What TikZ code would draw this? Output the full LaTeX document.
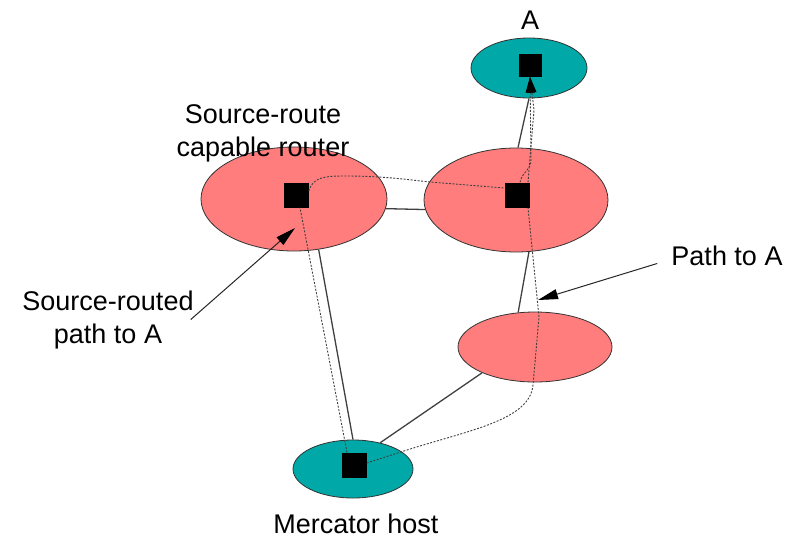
\documentclass[tikz,border=0pt]{standalone}
\usepackage{fontspec}
\setmainfont{Liberation Sans}
\usetikzlibrary{shapes.geometric,arrows.meta}
\definecolor{routerpink}{RGB}{255,125,125}
\definecolor{hostteal}{RGB}{0,168,168}
\begin{document}
\begin{tikzpicture}[x=1pt,y=-1pt,
  cloud/.style={ellipse,draw=black!80,line width=0.8pt,inner sep=0pt},
  router/.style={cloud,fill=routerpink},
  host/.style={cloud,fill=hostteal},
  port/.style={rectangle,fill=black,inner sep=0pt,minimum size=#1},
  port/.default=25pt,
  link/.style={draw=black!75,line width=1.3pt},
  route/.style={draw=black!75,line width=0.9pt,dash pattern=on 2pt off 1.5pt},
  intoA/.style={-{Triangle[length=16pt,width=9pt,color=black]}},
  note/.style={draw=black!85,line width=1pt,-{Triangle[length=20pt,width=10pt,color=black]}},
  lbl/.style={font=\fontsize{27}{33}\selectfont,align=center,inner sep=0pt}]
\useasboundingbox (0,0) rectangle (789,538);

% hosts and routers
\node[host,minimum width=116pt,minimum height=60pt] (A) at (529,68) {};
\node[router,minimum width=186pt,minimum height=104pt] (R1) at (294,199) {};
\node[router,minimum width=184pt,minimum height=104pt] (R2) at (516,200) {};
\node[router,minimum width=154pt,minimum height=70pt] (R3) at (535,347) {};
\node[host,minimum width=120pt,minimum height=58pt] (M) at (353,469) {};

% interfaces
\node[port=23pt] (sqA) at (530,65) {};
\node[port] (sq1) at (296,195) {};
\node[port] (sq2) at (517,195) {};
\node[port] (sqM) at (354,465) {};

% physical links
\draw[link] (R1.-6) -- (R2.186);
\draw[link] ([xshift=2pt]R2.north) -- (A.south);
\draw[link] (R3.116) -- (R2.-76);
\draw[link] (M.north) -- (R1.-64);
\draw[link] (M.44) -- (R3.206);

% source-routed path: host -> capable router -> router -> A
\draw[route] ([xshift=-7pt]sqM.north) -- ([xshift=4pt]sq1.south);
\draw[route] ([yshift=4pt]sq1.east) .. controls (313,177) and (325,176) .. (345,176)
  .. controls (385,176) and (410,180) .. (430,182) -- ([yshift=7pt]sq2.west);
\draw[route,intoA] ([xshift=3pt]sq2.north) .. controls (522,172) and (531,170) .. (531,160)
  -- (sqA.south);

% default path: host -> lower router -> router -> A
\draw[route] ([yshift=2pt]sqM.east) -- (407,450) .. controls (470,430) and (530,420) .. (533,385)
  -- (539,317) -- ([xshift=11pt]sq2.south);
\draw[route,intoA] ([xshift=11pt]sq2.north) -- (534,110) -- (sqA.south);

% labels (base anchor sits on the last line)
\node[lbl,anchor=base] (labA) at (530,29) {A};
\node[lbl,anchor=base] (labSR) at (263,156) {Source-route\\capable router};
\node[lbl,anchor=base] (labSRP) at (108,343) {Source-routed\\path to A};
\node[lbl,anchor=base] (labP) at (727,265) {Path to A};
\node[lbl,anchor=base] (labM) at (356,533) {Mercator host};

% callouts
\coordinate (srtip) at (295,228);
\coordinate (pttip) at (538,300);
\draw[note] ([xshift=-3pt]labSRP.east) -- (srtip);
\draw[note] ([shift={(-14pt,2pt)}]labP.south west) -- (pttip);
\end{tikzpicture}
\end{document}
